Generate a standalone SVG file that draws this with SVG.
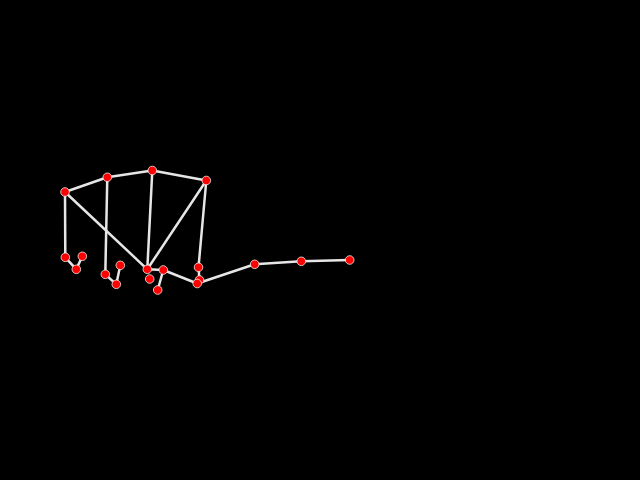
<svg xmlns="http://www.w3.org/2000/svg" width="640" height="480" viewBox="0 0 640 480">
<style>
.e{stroke:#e6e6e6;stroke-width:2.5;stroke-linecap:round;fill:none}
.k{fill:#ff0000;stroke:#f0f0f0;stroke-width:0.8}
</style>
<rect width="640" height="480" fill="#000"/>
<g id="connectors">
<line class="e" x1="65" y1="192" x2="107.3" y2="177.3"/>
<line class="e" x1="107.3" y1="177.3" x2="152.3" y2="170.5"/>
<line class="e" x1="152.3" y1="170.5" x2="206.3" y2="180.5"/>
<line class="e" x1="65" y1="192" x2="65.3" y2="257.3"/>
<line class="e" x1="65.3" y1="257.3" x2="76.3" y2="269.3"/>
<line class="e" x1="76.3" y1="269.3" x2="82.3" y2="256.3"/>
<line class="e" x1="65" y1="192" x2="147.3" y2="269.3"/>
<line class="e" x1="107.3" y1="177.3" x2="105.3" y2="274.3"/>
<line class="e" x1="105.3" y1="274.3" x2="116.3" y2="284.3"/>
<line class="e" x1="116.3" y1="284.3" x2="120.3" y2="265.3"/>
<line class="e" x1="152.3" y1="170.5" x2="147.3" y2="269.3"/>
<line class="e" x1="206.3" y1="180.5" x2="147.3" y2="269.3"/>
<line class="e" x1="206.3" y1="180.5" x2="198.5" y2="267.3"/>
<line class="e" x1="198.5" y1="267.3" x2="199.5" y2="280"/>
<line class="e" x1="147.3" y1="269.3" x2="163.3" y2="270"/>
<line class="e" x1="163.3" y1="270" x2="157.7" y2="290"/>
<line class="e" x1="163.3" y1="270" x2="197.2" y2="283.5"/>
<line class="e" x1="197.2" y1="283.5" x2="254.7" y2="264.3"/>
<line class="e" x1="254.7" y1="264.3" x2="301.3" y2="261.3"/>
<line class="e" x1="301.3" y1="261.3" x2="349.7" y2="260"/>
</g>
<g id="n0"><circle class="k" cx="65" cy="192" r="4.3"/></g>
<g id="n1"><circle class="k" cx="107.3" cy="177.3" r="4.3"/></g>
<g id="n2"><circle class="k" cx="152.3" cy="170.5" r="4.3"/></g>
<g id="n3"><circle class="k" cx="206.3" cy="180.5" r="4.3"/></g>
<g id="n4"><circle class="k" cx="65.3" cy="257.3" r="4.3"/></g>
<g id="n5"><circle class="k" cx="76.3" cy="269.3" r="4.3"/></g>
<g id="n6"><circle class="k" cx="82.3" cy="256.3" r="4.3"/></g>
<g id="n7"><circle class="k" cx="105.3" cy="274.3" r="4.3"/></g>
<g id="n8"><circle class="k" cx="116.3" cy="284.3" r="4.3"/></g>
<g id="n9"><circle class="k" cx="120.3" cy="265.3" r="4.3"/></g>
<g id="n10"><circle class="k" cx="147.3" cy="269.3" r="4.3"/></g>
<g id="n11"><circle class="k" cx="149.7" cy="279" r="4.3"/></g>
<g id="n12"><circle class="k" cx="157.7" cy="290" r="4.3"/></g>
<g id="n13"><circle class="k" cx="163.3" cy="270" r="4.3"/></g>
<g id="n14"><circle class="k" cx="198.5" cy="267.3" r="4.3"/></g>
<g id="n15"><circle class="k" cx="199.5" cy="280" r="4.3"/></g>
<g id="n16"><circle class="k" cx="197.2" cy="283.5" r="4.3"/></g>
<g id="n17"><circle class="k" cx="254.7" cy="264.3" r="4.3"/></g>
<g id="n18"><circle class="k" cx="301.3" cy="261.3" r="4.3"/></g>
<g id="n19"><circle class="k" cx="349.7" cy="260" r="4.3"/></g>
</svg>
